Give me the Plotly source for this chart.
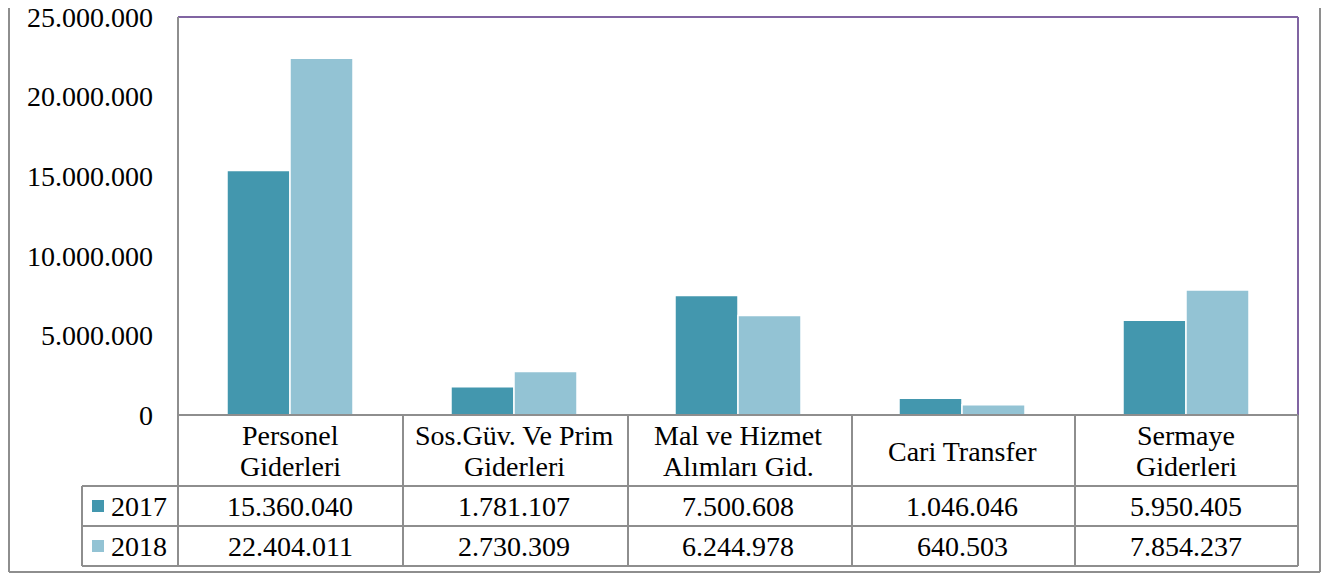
import plotly.graph_objects as go

categories = ["Personel\nGiderleri", "Sos.Güv. Ve Prim\nGiderleri", "Mal ve Hizmet\nAlımları Gid.", "Cari Transfer", "Sermaye\nGiderleri"]
series_names = ["2017", "2018"]
values_2017 = [15360040, 1781107, 7500608, 1046046, 5950405]
values_2018 = [22404011, 2730309, 6244978, 640503, 7854237]
y_ticks = [0, 5000000, 10000000, 15000000, 20000000, 25000000]

colors = ["#4397AE", "#93C3D4"]
FONT = "Liberation Serif"
FS = 28
OFF = 8  # page body margin
W, H = 1330 - 2 * OFF, 581 - 2 * OFF
PL, PR, PT, PB = 178, 1298, 17, 415  # page pixel coords of plot area


def px(x):
    return (x - PL) / (PR - PL)


def py(y):
    return (PB - y) / (PB - PT)


def fmt(v):
    return f"{v:,}".replace(",", ".")


xidx = list(range(len(categories)))
fig = go.Figure()
for name, vals, col in zip(series_names, [values_2017, values_2018], colors):
    fig.add_trace(go.Bar(x=xidx, y=vals, name=name, marker=dict(color=col, line=dict(color="white", width=1.5))))

shapes = []
GRAY = "#8E8E8E"
PURPLE = "#8064A2"


def line(x0, y0, x1, y1, color=GRAY, w=2):
    shapes.append(dict(type="line", xref="paper", yref="paper", x0=px(x0), y0=py(y0), x1=px(x1), y1=py(y1),
                       line=dict(color=color, width=w), layer="above"))


# outer border (kept inside the figure area)
line(9, -5, 9, 572)
line(9, 572, 1320, 572)
line(1320, 572, 1320, -5)
# plot frame
line(PL, PT, PR, PT, PURPLE)
line(PR, PT, PR, PB, PURPLE)
line(PL, PT, PL, 566)
line(PL, PB, PR, PB)
# table
col_edges = [178, 403, 628, 852, 1075, 1298]
for xe in col_edges:
    line(xe, PB, xe, 566)
line(82, 486, 1298, 486)
line(82, 526, 1298, 526)
line(82, 566, 1298, 566)
line(82, 486, 82, 566)

annotations = []
row_y = [506, 546]
for i, cat in enumerate(categories):
    parts = cat.split("\n")
    ys = [451] if len(parts) == 1 else [435, 466]
    for t, yy in zip(parts, ys):
        annotations.append(dict(x=i, y=py(yy), xref="x", yref="paper", text=t, showarrow=False,
                                xanchor="center", yanchor="middle", font=dict(family=FONT, size=FS, color="black")))
for vals, ry in zip([values_2017, values_2018], row_y):
    for i, v in enumerate(vals):
        annotations.append(dict(x=i, y=py(ry), xref="x", yref="paper", text=fmt(v), showarrow=False,
                                xanchor="center", yanchor="middle", font=dict(family=FONT, size=FS, color="black")))
for name, col, ry in zip(series_names, colors, row_y):
    shapes.append(dict(type="rect", xref="paper", yref="paper", x0=px(92), x1=px(104), y0=py(ry - 6), y1=py(ry + 6),
                       fillcolor=col, line=dict(width=0)))
    annotations.append(dict(x=px(109), y=py(ry), xref="paper", yref="paper", text=name, showarrow=False,
                            xanchor="left", yanchor="middle", font=dict(family=FONT, size=FS, color="black")))

fig.update_layout(
    width=W, height=H,
    margin=dict(l=PL - OFF, r=W - (PR - OFF), t=PT - OFF, b=H - (PB - OFF), pad=0),
    paper_bgcolor="white", plot_bgcolor="white",
    showlegend=False,
    barmode="group", bargap=0.4375, bargroupgap=0,
    separators=",.",
    font=dict(family=FONT, size=FS, color="black"),
    xaxis=dict(range=[-0.5, len(categories) - 0.5], showticklabels=False, showgrid=False, zeroline=False,
               showline=False, ticks="", automargin=False),
    yaxis=dict(range=[0, 25000000], tickvals=y_ticks, tickformat=",d", showgrid=False, zeroline=False,
               showline=False, ticks="", ticklabelstandoff=24, automargin=False, ticklabeloverflow="allow",
               tickfont=dict(family=FONT, size=FS, color="black")),
    shapes=shapes, annotations=annotations,
)

fig.write_html("out.html")
